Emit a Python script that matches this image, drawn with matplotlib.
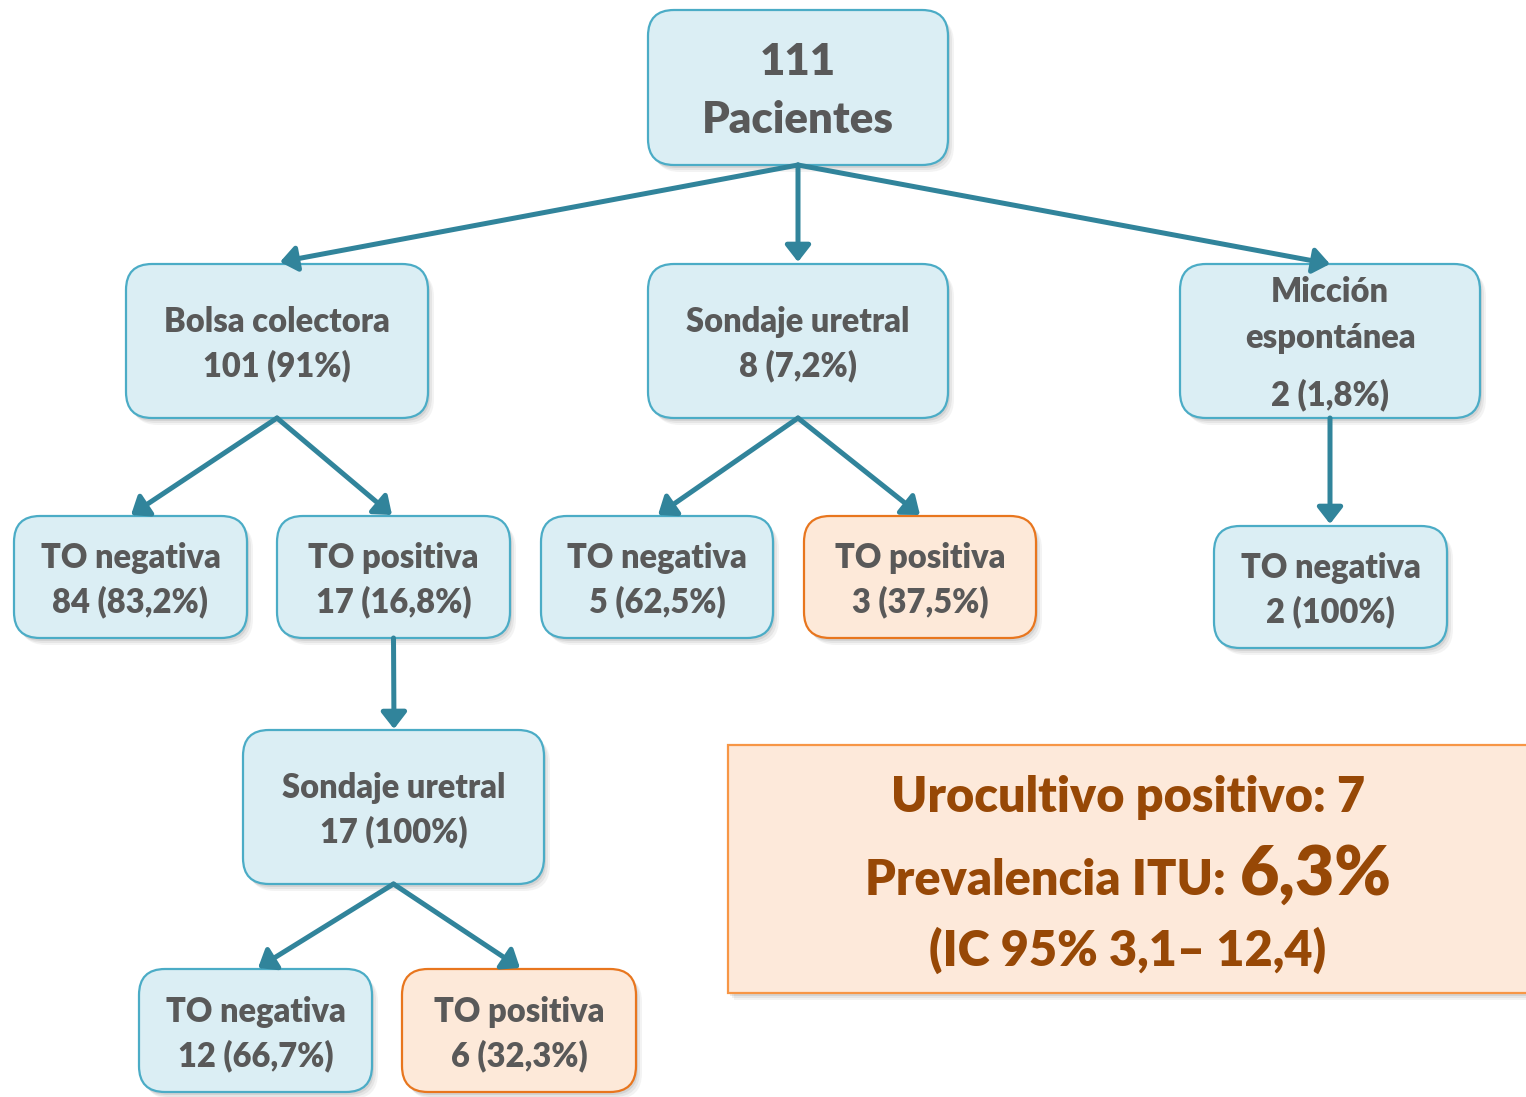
import matplotlib
matplotlib.use('Agg')
import matplotlib.pyplot as plt
from matplotlib.patches import FancyBboxPatch, FancyArrowPatch, Rectangle

# node texts
node_names = ['root', 'bolsa', 'sondaje', 'miccion',
              'neg84', 'pos17', 'neg5', 'pos3', 'neg2',
              'sond17', 'neg12', 'pos6']
node_lines = [['111', 'Pacientes'],
              ['Bolsa colectora', '101 (91%)'],
              ['Sondaje uretral', '8 (7,2%)'],
              ['Micción', 'espontánea', '2 (1,8%)'],
              ['TO negativa', '84 (83,2%)'],
              ['TO positiva', '17 (16,8%)'],
              ['TO negativa', '5 (62,5%)'],
              ['TO positiva', '3 (37,5%)'],
              ['TO negativa', '2 (100%)'],
              ['Sondaje uretral', '17 (100%)'],
              ['TO negativa', '12 (66,7%)'],
              ['TO positiva', '6 (32,3%)']]
node_kind = ['blue', 'blue', 'blue', 'blue', 'blue', 'blue', 'blue',
             'orange', 'blue', 'blue', 'blue', 'orange']
edges = [('root', 'bolsa'), ('root', 'sondaje'), ('root', 'miccion'),
         ('bolsa', 'neg84'), ('bolsa', 'pos17'),
         ('sondaje', 'neg5'), ('sondaje', 'pos3'),
         ('miccion', 'neg2'), ('pos17', 'sond17'),
         ('sond17', 'neg12'), ('sond17', 'pos6')]
summary_lines = ['Urocultivo positivo: 7', 'Prevalencia ITU:', '6,3%', '(IC 95% 3,1\u2013 12,4)']

# layout in pixels (x0, y0, x1, y1)
layout = {
    'root': (648, 10, 948, 165), 'bolsa': (126, 264, 428, 418),
    'sondaje': (648, 264, 948, 418), 'miccion': (1180, 264, 1480, 418),
    'neg84': (14, 516, 247, 638), 'pos17': (277, 516, 510, 638),
    'neg5': (541, 516, 773, 638), 'pos3': (804, 516, 1036, 638),
    'neg2': (1214, 526, 1447, 648), 'sond17': (243, 730, 544, 884),
    'neg12': (139, 969, 372, 1092), 'pos6': (402, 969, 636, 1092),
}
line_y = {'root': [62, 120], 'miccion': [292, 338, 395]}
arrow_ends = {('root', 'bolsa'): (280, 262), ('root', 'sondaje'): (798, 262),
              ('root', 'miccion'): (1330, 264), ('bolsa', 'neg84'): (131, 515),
              ('bolsa', 'pos17'): (392, 515), ('sondaje', 'neg5'): (658, 515),
              ('sondaje', 'pos3'): (920, 515), ('miccion', 'neg2'): (1330, 524),
              ('pos17', 'sond17'): (394, 729), ('sond17', 'neg12'): (258, 968),
              ('sond17', 'pos6'): (520, 968)}

styles = {'blue': ('#DBEEF4', '#4BACC6'), 'orange': ('#FDE9D9', '#E8761E')}
txt_color = '#595959'
arrow_color = '#31849B'
FONT = ['Lato', 'DejaVu Sans']
WEIGHT = 'heavy'

fig = plt.figure(figsize=(15.26, 10.97), dpi=100)
ax = fig.add_axes([0, 0, 1, 1])
ax.set_xlim(0, 1526)
ax.set_ylim(1097, 0)
ax.axis('off')


def shadow(ax, x0, y0, w, h, rnd):
    for i, a in enumerate([0.10, 0.08, 0.06]):
        d = 3 + 2 * i
        if rnd:
            p = FancyBboxPatch((x0 + d - 1, y0 + d), w, h,
                               boxstyle='round,pad=0,rounding_size=%d' % rnd,
                               fc='#404040', ec='none', alpha=a, zorder=1)
        else:
            p = Rectangle((x0 + d - 1, y0 + d), w, h, fc='#404040', ec='none',
                          alpha=a, zorder=1)
        ax.add_patch(p)


for name, lines, kind in zip(node_names, node_lines, node_kind):
    x0, y0, x1, y1 = layout[name]
    fc, ec = styles[kind]
    shadow(ax, x0, y0, x1 - x0, y1 - y0, 26)
    ax.add_patch(FancyBboxPatch((x0, y0), x1 - x0, y1 - y0,
                                boxstyle='round,pad=0,rounding_size=26',
                                fc=fc, ec=ec, lw=1.6, zorder=2))
    cx = (x0 + x1) / 2
    if name in line_y:
        ys = line_y[name]
    else:
        cy = (y0 + y1) / 2 + 3
        ys = [cy - 22, cy + 22]
    size = 31.5 if name == 'root' else 23.5
    for t, y in zip(lines, ys):
        ax.text(cx, y, t, ha='center', va='center', fontsize=size,
                fontweight=WEIGHT, color=txt_color, family=FONT, zorder=3)

for a, b in edges:
    x0, y0, x1, y1 = layout[a]
    start = ((x0 + x1) / 2, y1)
    ax.add_patch(FancyArrowPatch(start, arrow_ends[(a, b)],
                                 arrowstyle='-|>,head_length=0.45,head_width=0.35',
                                 mutation_scale=22, color=arrow_color, lw=3.6,
                                 shrinkA=0, shrinkB=0, zorder=2.5))

# summary box
shadow(ax, 728, 745, 820, 248, 0)
ax.add_patch(Rectangle((728, 745), 820, 248, fc='#FDE9DA', ec='#F79646',
                       lw=1.6, zorder=2))
sc = '#974806'
ax.text(1128, 797, summary_lines[0], ha='center', va='center', fontsize=35,
        fontweight=WEIGHT, color=sc, family=FONT, zorder=3)
ax.text(1226, 895, summary_lines[1], ha='right', va='baseline', fontsize=35,
        fontweight=WEIGHT, color=sc, family=FONT, zorder=3)
ax.text(1240, 895, summary_lines[2], ha='left', va='baseline', fontsize=49,
        fontweight=WEIGHT, color=sc, family=FONT, zorder=3)
ax.text(1128, 950, summary_lines[3], ha='center', va='center', fontsize=35,
        fontweight=WEIGHT, color=sc, family=FONT, zorder=3)

fig.savefig('out.png', dpi=100)
